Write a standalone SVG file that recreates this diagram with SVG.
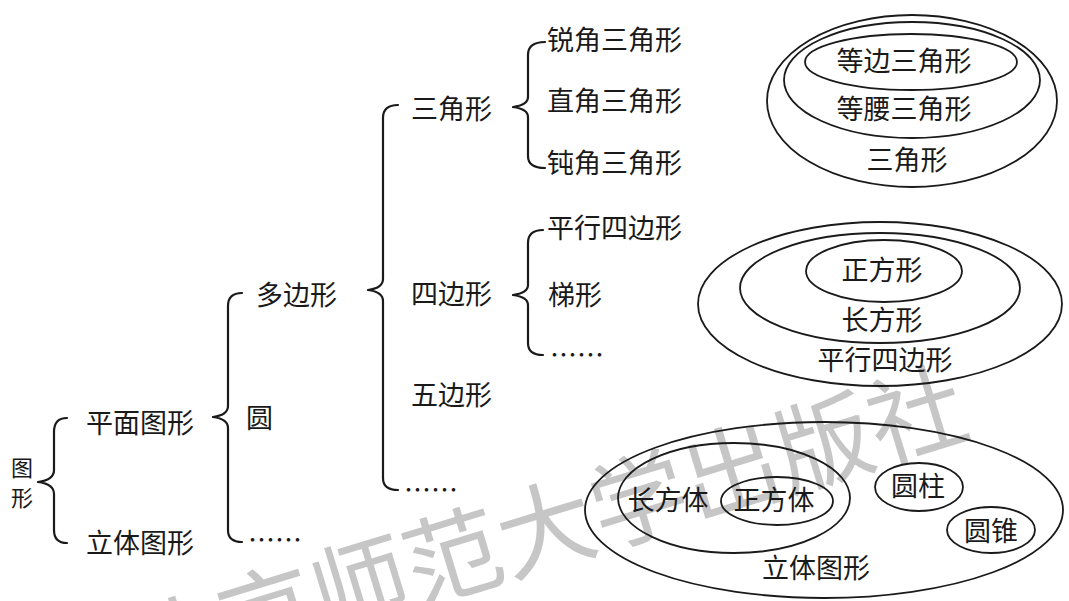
<svg xmlns="http://www.w3.org/2000/svg" width="1069" height="601" viewBox="0 0 1069 601">
<style>
text{font-family:"Noto Sans CJK SC","Noto Sans CJK JP",sans-serif;fill:#1a1a1a;font-size:27px}
.m{text-anchor:middle}
.v{font-size:22px}
.br{fill:none;stroke:#1a1a1a;stroke-width:2.2;stroke-linecap:round;stroke-linejoin:round}
.el{fill:none;stroke:#1a1a1a;stroke-width:1.8}
.wm{fill:#c6c6c6;font-size:97px;text-anchor:end}
</style>
<rect width="1069" height="601" fill="#fff"/>
<g id="watermark" transform="translate(915,414) rotate(-17)">
<text class="wm" x="50" y="37">北京师范大学出版社</text>
</g>
<g id="connectors">
<path class="br" d="M67,418 Q54,418 54,432 L54,470 Q54,480 38,482 Q54,484 54,494 L54,530 Q54,543 67,543"/>
<path class="br" d="M242,293 Q228,293 228,306 L228,406 Q228,415 213,417 Q228,419 228,428 L228,530 Q228,542 242,542"/>
<path class="br" d="M398,105 Q383,105 383,118 L383,279 Q383,288 368,290 Q383,292 383,301 L383,478 Q383,490 398,490"/>
<path class="br" d="M545,42 Q528,42 528,55 L528,97 Q528,105 513,107 Q528,109 528,117 L528,156 Q528,168 545,168"/>
<path class="br" d="M543,230 Q528,230 528,243 L528,285 Q528,293 513,295 Q528,297 528,305 L528,343 Q528,355 543,355"/>
</g>
<g id="n-tuxing"><text class="v" x="11" y="476">图</text><text class="v" x="11" y="506">形</text></g>
<g id="n-pingmian"><text x="86" y="433">平面图形</text></g>
<g id="n-liti"><text x="86" y="553">立体图形</text></g>
<g id="n-duobian"><text x="256" y="305">多边形</text></g>
<g id="n-yuan"><text x="246" y="428">圆</text></g>
<g id="n-more1"><text x="248" y="550">……</text></g>
<g id="n-sanjiao"><text x="411" y="119">三角形</text></g>
<g id="n-sibian"><text x="411" y="304">四边形</text></g>
<g id="n-wubian"><text x="411" y="405">五边形</text></g>
<g id="n-more2"><text x="404" y="500">……</text></g>
<g id="n-ruijiao"><text x="547" y="50">锐角三角形</text></g>
<g id="n-zhijiao"><text x="547" y="111">直角三角形</text></g>
<g id="n-dunjiao"><text x="547" y="173">钝角三角形</text></g>
<g id="n-pingxing"><text x="547" y="238">平行四边形</text></g>
<g id="n-tixing"><text x="548" y="305">梯形</text></g>
<g id="n-more3"><text x="550" y="365">……</text></g>
<g id="venn-triangle">
<ellipse class="el" cx="912" cy="101" rx="145" ry="86"/>
<ellipse class="el" cx="912" cy="80" rx="128" ry="58"/>
<ellipse class="el" cx="911" cy="62" rx="106" ry="28"/>
<text class="m" x="904" y="71">等边三角形</text>
<text class="m" x="904" y="119">等腰三角形</text>
<text class="m" x="907" y="170">三角形</text>
</g>
<g id="venn-quad">
<ellipse class="el" cx="880" cy="304" rx="182" ry="82"/>
<ellipse class="el" cx="880" cy="288" rx="140" ry="55"/>
<ellipse class="el" cx="884" cy="271" rx="78" ry="31"/>
<text class="m" x="882" y="280">正方形</text>
<text class="m" x="882" y="330">长方形</text>
<text class="m" x="885" y="370">平行四边形</text>
</g>
<g id="venn-solid">
<ellipse class="el" cx="824" cy="510" rx="239" ry="88"/>
<ellipse class="el" cx="734" cy="498" rx="116" ry="55"/>
<ellipse class="el" cx="777" cy="501" rx="56" ry="24"/>
<ellipse class="el" cx="919" cy="487" rx="44" ry="24"/>
<ellipse class="el" cx="991" cy="530" rx="44" ry="23"/>
<text class="m" x="668" y="510">长方体</text>
<text class="m" x="774" y="510">正方体</text>
<text class="m" x="918" y="496">圆柱</text>
<text class="m" x="991" y="541">圆锥</text>
<text class="m" x="816" y="578">立体图形</text>
</g>
</svg>
